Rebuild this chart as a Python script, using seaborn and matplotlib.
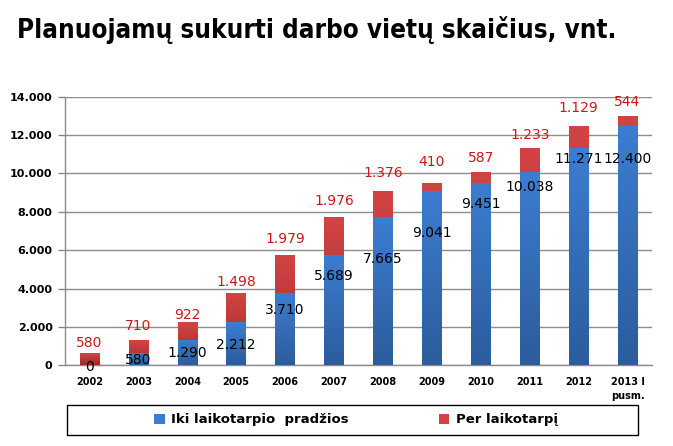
import numpy as np
import pandas as pd
import matplotlib
matplotlib.use("Agg")
import matplotlib.pyplot as plt
import seaborn as sns
from matplotlib.patches import Patch, Rectangle

# ---- data ----
categories = ["2002", "2003", "2004", "2005", "2006", "2007", "2008", "2009",
              "2010", "2011", "2012", "2013 I\npusm."]
base_values = [0, 580, 1290, 2212, 3710, 5689, 7665, 9041, 9451, 10038, 11271, 12400]
period_values = [580, 710, 922, 1498, 1979, 1976, 1376, 410, 587, 1233, 1129, 544]
series_names = ["Iki laikotarpio  pradžios", "Per laikotarpį"]
y_ticks = [0, 2000, 4000, 6000, 8000, 10000, 12000, 14000]

# label placement (layout, data units)
base_label_y = [-78, 286, 650, 1067, 2888, 4658, 5542, 6895, 8405, 9290, 10748, 10748]
period_label_y = [1171, 2056, 2628, 4345, 6583, 8561, 10018, 10590, 10798, 11995, 13400, 13712]

def fmt(v):
    return f"{v:,}".replace(",", ".")

df = pd.DataFrame({"cat": categories, "base": base_values, "period": period_values})
df["total"] = df["base"] + df["period"]

sns.set_theme(style="white")
plt.rcParams['font.family'] = ['DejaVu Sans']
plt.rcParams['text.color'] = 'black'
plt.rcParams['xtick.color'] = 'black'
plt.rcParams['ytick.color'] = 'black'

fig = plt.figure(figsize=(6.73, 4.46), dpi=100)
ax = fig.add_axes([0.0966, 0.1805, 0.8722, 0.603])

blue_top, blue_bot = "#3C7DD0", "#2C5C9C"
red_top, red_bot = "#D24444", "#A02828"

sns.barplot(data=df, x="cat", y="total", color=red_top, width=0.4, ax=ax,
            saturation=1, zorder=3)
n_red = len(ax.patches)
sns.barplot(data=df, x="cat", y="base", color=blue_top, width=0.4, ax=ax,
            saturation=1, zorder=3)

# gradient fills
def grad_fill(patch, c_top, c_bot):
    x0, y0 = patch.get_x(), patch.get_y()
    w, h = patch.get_width(), patch.get_height()
    if h <= 0:
        return
    ct = np.array(matplotlib.colors.to_rgb(c_top))
    cb = np.array(matplotlib.colors.to_rgb(c_bot))
    t = np.linspace(0, 1, 64)[:, None]
    img = (cb * (1 - t) + ct * t)[:, None, :]
    ax.imshow(img, extent=[x0, x0 + w, y0, y0 + h], origin="lower",
              aspect="auto", zorder=3.5, interpolation="bilinear")
    patch.set_facecolor("none")
    patch.set_edgecolor("none")

for i, p in enumerate(list(ax.patches)):
    if i < n_red:
        grad_fill(p, red_top, red_bot)
    else:
        grad_fill(p, blue_top, blue_bot)
ax.set_xlim(-0.5, len(categories) - 0.5)
ax.set_ylim(0, 14000)

# labels
for i in range(len(categories)):
    ax.text(i, base_label_y[i], fmt(base_values[i]), ha="center", va="center",
            fontsize=10, color="black", zorder=5)
    ax.text(i, period_label_y[i], fmt(period_values[i]), ha="center", va="center",
            fontsize=10, color="#CC1818", zorder=5)

# axes styling
ax.set_xlabel("")
ax.set_ylabel("")
ax.set_yticks(y_ticks)
ax.set_yticklabels([fmt(v) for v in y_ticks], fontsize=8, fontweight="bold")
ax.set_xticks(range(len(categories)))
ax.set_xticklabels(categories, fontsize=7, fontweight="bold", linespacing=1.5)
ax.tick_params(axis="x", which="major", length=0, pad=8)
ax.set_xticks(np.arange(-0.5, len(categories), 1), minor=True)
ax.tick_params(axis="x", which="minor", length=5, color="#888888", width=1)
ax.tick_params(axis="y", length=5, color="#888888", width=1, pad=4, left=True)
ax.yaxis.grid(True, color="#8C8C8C", linewidth=1, zorder=0)
ax.set_axisbelow(True)
for s in ["top", "right"]:
    ax.spines[s].set_visible(False)
for s in ["left", "bottom"]:
    ax.spines[s].set_color("#8C8C8C")
    ax.spines[s].set_linewidth(1)

# title, fitted to the reference width
title = fig.text(17 / 673, 1 - 30 / 446, "Planuojamų sukurti darbo vietų skaičius, vnt.",
                 fontsize=21, fontweight="bold", ha="left", va="center",
                 color="black", fontstretch="condensed")
fig.canvas.draw()
wpx = title.get_window_extent().width
title.set_fontsize(21 * 598 / wpx)

# legend box + entries
fig.patches.append(Rectangle((67 / 673, 1 - 435 / 446), 571 / 673, 30 / 446,
                             transform=fig.transFigure, fill=False,
                             edgecolor="black", linewidth=1))
handles = [Patch(facecolor=blue_top, edgecolor="none"),
           Patch(facecolor=red_top, edgecolor="none")]
fig.legend(handles, series_names, loc="center",
           bbox_to_anchor=(356 / 673, 1 - 420 / 446),
           ncol=2, frameon=False,
           prop={"weight": "bold", "size": 9.5}, handlelength=0.8,
           handleheight=0.8, handletextpad=0.5, borderaxespad=0,
           columnspacing=6.8)

fig.savefig("out.png", dpi=100)
